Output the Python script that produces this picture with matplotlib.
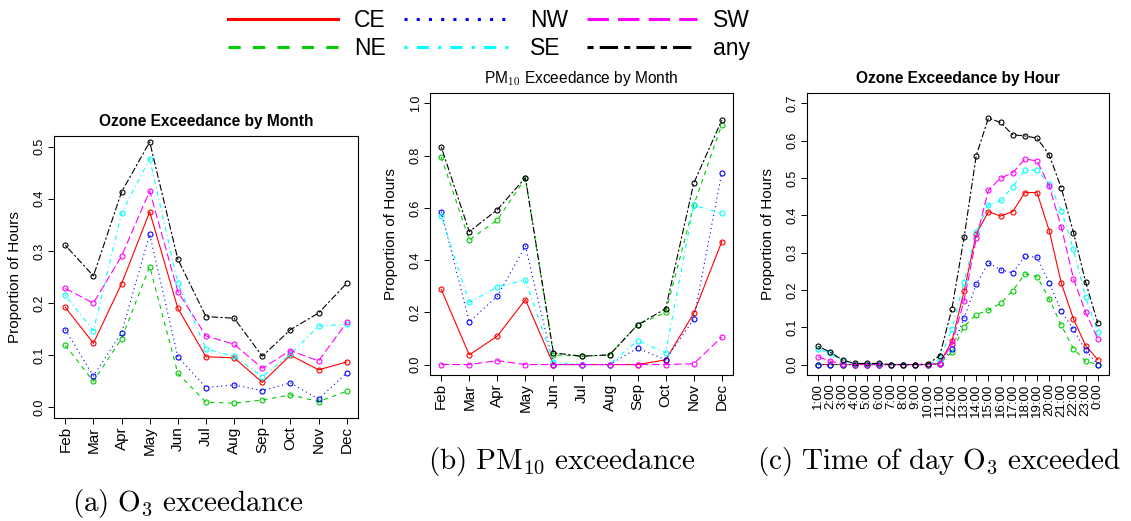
import matplotlib
matplotlib.use("Agg")
import matplotlib.pyplot as plt
from matplotlib.lines import Line2D

plt.rcParams['font.family'] = ['Liberation Sans', 'DejaVu Sans']
plt.rcParams['mathtext.fontset'] = 'cm'

months = ["Feb", "Mar", "Apr", "May", "Jun", "Jul", "Aug", "Sep", "Oct", "Nov", "Dec"]
hours = ["1:00", "2:00", "3:00", "4:00", "5:00", "6:00", "7:00", "8:00", "9:00", "10:00",
         "11:00", "12:00", "13:00", "14:00", "15:00", "16:00", "17:00", "18:00", "19:00",
         "20:00", "21:00", "22:00", "23:00", "0:00"]
regions = ["CE", "NE", "NW", "SE", "SW", "any"]

# ozone exceedance by month
o3_ce = [0.192, 0.123, 0.237, 0.375, 0.190, 0.097, 0.095, 0.048, 0.100, 0.072, 0.087]
o3_ne = [0.119, 0.050, 0.132, 0.270, 0.065, 0.010, 0.008, 0.014, 0.024, 0.011, 0.031]
o3_nw = [0.149, 0.060, 0.143, 0.332, 0.097, 0.038, 0.043, 0.032, 0.047, 0.016, 0.066]
o3_se = [0.215, 0.147, 0.372, 0.477, 0.238, 0.112, 0.098, 0.059, 0.102, 0.156, 0.159]
o3_sw = [0.228, 0.200, 0.290, 0.415, 0.222, 0.137, 0.121, 0.075, 0.109, 0.089, 0.163]
o3_any = [0.311, 0.252, 0.413, 0.509, 0.284, 0.174, 0.171, 0.098, 0.149, 0.181, 0.238]

# PM10 exceedance by month
pm_ce = [0.288, 0.037, 0.109, 0.249, 0.0, 0.0, 0.0, 0.0, 0.018, 0.196, 0.471]
pm_ne = [0.795, 0.477, 0.554, 0.714, 0.037, 0.032, 0.037, 0.152, 0.200, 0.610, 0.919]
pm_nw = [0.586, 0.164, 0.262, 0.454, 0.0, 0.0, 0.0, 0.063, 0.018, 0.174, 0.735]
pm_se = [0.569, 0.238, 0.297, 0.324, 0.010, 0.0, 0.0, 0.092, 0.045, 0.610, 0.579]
pm_sw = [0.0, 0.0, 0.015, 0.0, 0.0, 0.0, 0.0, 0.0, 0.0, 0.003, 0.105]
pm_any = [0.834, 0.509, 0.593, 0.716, 0.045, 0.032, 0.037, 0.152, 0.214, 0.694, 0.936]

# ozone exceedance by hour
hr_ce = [0, 0, 0, 0, 0, 0, 0, 0, 0, 0, 0.003, 0.063, 0.197, 0.350, 0.410, 0.398,
         0.410, 0.461, 0.461, 0.359, 0.218, 0.122, 0.051, 0.013]
hr_ne = [0, 0, 0, 0, 0, 0, 0, 0, 0, 0, 0.002, 0.034, 0.102, 0.134, 0.146, 0.164,
         0.198, 0.243, 0.236, 0.176, 0.105, 0.042, 0.009, 0.0]
hr_nw = [0, 0, 0, 0, 0, 0, 0, 0, 0, 0, 0.002, 0.042, 0.125, 0.215, 0.273, 0.254,
         0.246, 0.290, 0.288, 0.219, 0.144, 0.094, 0.038, 0.0]
hr_se = [0.042, 0.030, 0.010, 0.002, 0.002, 0.002, 0, 0, 0, 0, 0.013, 0.096, 0.222,
         0.355, 0.428, 0.440, 0.476, 0.521, 0.521, 0.485, 0.413, 0.309, 0.180, 0.088]
hr_sw = [0.021, 0.009, 0.002, 0, 0, 0, 0, 0, 0, 0, 0.002, 0.055, 0.171, 0.338, 0.467,
         0.500, 0.514, 0.551, 0.546, 0.479, 0.368, 0.230, 0.140, 0.069]
hr_any = [0.049, 0.033, 0.012, 0.003, 0.003, 0.003, 0, 0, 0, 0.001, 0.024, 0.150, 0.341,
          0.560, 0.661, 0.649, 0.616, 0.613, 0.607, 0.562, 0.473, 0.354, 0.221, 0.111]

colors = ["#ff0000", "#00cd00", "#0000ff", "#00ffff", "#ff00ff", "#000000"]
styles = ["-", (0, (4, 4)), (0, (1, 3)), (0, (1, 3, 4, 3)), (0, (7, 3)), (0, (2, 2, 6, 2))]

W, H = 1131, 521
fig = plt.figure(figsize=(W / 100, H / 100), dpi=100)


def panel(box, labels, series, title, bold, ylim, yticks, xfs):
    ax = fig.add_axes([box[0] / W, 1 - box[3] / H, (box[2] - box[0]) / W, (box[3] - box[1]) / H])
    x = list(range(1, len(labels) + 1))
    for vals, c, ls in zip(series, colors, styles):
        ax.plot(x, vals, color=c, linestyle=ls, lw=0.8, marker="o", ms=3.6,
                mfc="none", mew=0.8)
    ax.set_xlim(1 - 0.04 * (len(x) - 1), len(x) + 0.04 * (len(x) - 1))
    ax.set_ylim(*ylim)
    ax.set_xticks(x)
    ax.set_xticklabels(labels, rotation=90, fontsize=xfs)
    ax.set_yticks(yticks)
    ax.set_yticklabels([f"{t:.1f}" for t in yticks], rotation=90, va="center", fontsize=9)
    ax.tick_params(length=4, width=0.7, pad=2)
    for s in ax.spines.values():
        s.set_linewidth(0.8)
    ax.set_title(title, fontsize=11.2, fontweight="bold" if bold else "normal", pad=7)
    ax.set_ylabel("Proportion of Hours", fontsize=11)
    ax.yaxis.set_label_coords(-0.105, 0.5)
    return ax


panel((54, 136, 358, 418), months, [o3_ce, o3_ne, o3_nw, o3_se, o3_sw, o3_any],
      "Ozone Exceedance by Month", True, (-0.0204, 0.5204), [0, 0.1, 0.2, 0.3, 0.4, 0.5], 11)
panel((430, 93, 733, 375), months, [pm_ce, pm_ne, pm_nw, pm_se, pm_sw, pm_any],
      r"PM$_{10}$ Exceedance by Month", False, (-0.04, 1.04), [0, 0.2, 0.4, 0.6, 0.8, 1.0], 11)
panel((807, 93, 1109, 375), hours, [hr_ce, hr_ne, hr_nw, hr_se, hr_sw, hr_any],
      "Ozone Exceedance by Hour", True, (-0.028, 0.728), [0, 0.1, 0.2, 0.3, 0.4, 0.5, 0.6, 0.7], 9.5)

handles = [Line2D([], [], color=c, linestyle=ls, lw=2.2) for c, ls in zip(colors, styles)]
fig.legend(handles, regions, ncol=3, loc="upper left", bbox_to_anchor=(228 / W, 1 - 9 / H),
           frameon=False, fontsize=16.5, handlelength=4.8, handletextpad=0.7,
           columnspacing=0.8, labelspacing=0.2, borderpad=0, borderaxespad=0)

fig.text(72 / W, 1 - 503 / H, r"$\mathrm{(a)\ O_3\ exceedance}$", fontsize=21, va="center")
fig.text(428 / W, 1 - 462 / H, r"$\mathrm{(b)\ PM_{10}\ exceedance}$", fontsize=21, va="center")
fig.text(757 / W, 1 - 462 / H, r"$\mathrm{(c)\ Time\ of\ day\ O_3\ exceeded}$", fontsize=21, va="center")

fig.savefig("out.png", dpi=100)
